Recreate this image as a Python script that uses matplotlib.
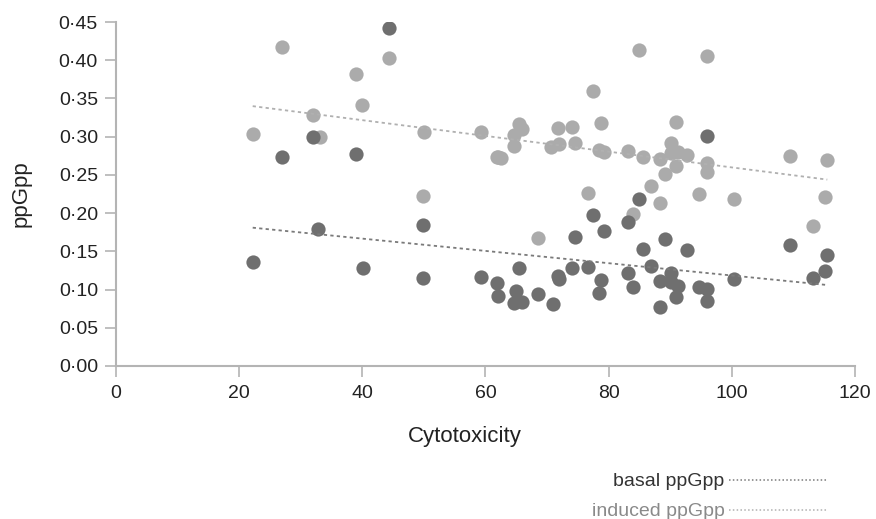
import numpy as np
import matplotlib
matplotlib.use("Agg")
import matplotlib.pyplot as plt
from matplotlib.ticker import FuncFormatter

plt.rcParams['font.family'] = ['Liberation Sans', 'DejaVu Sans']

# induced ppGpp (light points)
induced_x = [22.2, 26.9, 32.0, 33.1, 38.9, 39.9, 44.3, 50.0, 49.8, 59.2,
             61.8, 62.1, 62.6, 64.6, 64.7, 65.4, 65.9, 68.5, 70.7, 71.7,
             72.0, 74.1, 74.5, 76.7, 77.4, 78.5, 78.8, 79.3, 83.2, 83.9,
             85.0, 85.6, 86.9, 88.3, 88.3, 89.2, 90.2, 90.2, 90.9, 91.2,
             90.9, 92.8, 94.7, 95.9, 95.9, 95.9, 100.3, 109.5, 113.2, 115.2,
             115.5]
induced_y = [0.304, 0.417, 0.328, 0.300, 0.382, 0.341, 0.403, 0.306, 0.222, 0.306,
             0.273, 0.273, 0.272, 0.288, 0.302, 0.317, 0.310, 0.167, 0.286, 0.311,
             0.290, 0.313, 0.292, 0.226, 0.360, 0.283, 0.318, 0.280, 0.281, 0.199,
             0.413, 0.273, 0.235, 0.271, 0.213, 0.251, 0.292, 0.279, 0.262, 0.280,
             0.319, 0.276, 0.225, 0.406, 0.266, 0.254, 0.218, 0.275, 0.183, 0.221,
             0.269]

# basal ppGpp (dark points)
basal_x = [22.2, 26.9, 32.0, 32.8, 38.9, 40.1, 44.3, 49.8, 49.8, 59.2,
           61.8, 62.1, 64.9, 64.6, 65.9, 65.4, 68.5, 70.9, 71.7, 71.9,
           74.1, 74.5, 76.7, 77.4, 78.8, 78.5, 79.2, 83.1, 83.2, 83.9,
           85.0, 85.6, 86.9, 88.3, 88.3, 89.2, 90.2, 90.2, 91.2, 90.9,
           92.8, 94.7, 95.9, 95.9, 95.9, 100.3, 109.5, 113.2, 115.2, 115.5]
basal_y = [0.136, 0.273, 0.300, 0.179, 0.277, 0.128, 0.442, 0.184, 0.115, 0.116,
           0.109, 0.092, 0.098, 0.082, 0.084, 0.128, 0.094, 0.081, 0.118, 0.114,
           0.128, 0.169, 0.130, 0.198, 0.113, 0.096, 0.177, 0.188, 0.122, 0.103,
           0.218, 0.153, 0.131, 0.111, 0.077, 0.166, 0.122, 0.110, 0.105, 0.090,
           0.152, 0.103, 0.101, 0.085, 0.301, 0.114, 0.158, 0.115, 0.124, 0.145]

# trend lines as drawn in the figure (slope, intercept)
induced_fit = (-0.00103, 0.3628)
basal_fit = (-0.000804, 0.1988)

y_ticks = [0.0, 0.05, 0.10, 0.15, 0.20, 0.25, 0.30, 0.35, 0.40, 0.45]
x_ticks = [0, 20, 40, 60, 80, 100, 120]

dark = '#6f6f6f'
light = '#ababab'
spine = '#b4b4b4'

fig = plt.figure(figsize=(8.76, 5.19), dpi=100)
ax = fig.add_axes([0.1324, 0.2948, 0.8436, 0.6628])

ax.scatter(induced_x, induced_y, s=105, color=light, linewidths=0, zorder=2)
ax.scatter(basal_x, basal_y, s=105, color=dark, linewidths=0, zorder=3)

for xs, fit, c in [(induced_x, induced_fit, '#b0b0b0'), (basal_x, basal_fit, '#7a7a7a')]:
    xx = np.array([min(xs), max(xs)])
    ax.plot(xx, fit[0] * xx + fit[1], linestyle=(0, (1.8, 1.8)), color=c, lw=1.3, zorder=4)

ax.set_xlim(0, 120)
ax.set_ylim(0, 0.45)
ax.set_xticks(x_ticks)
ax.set_yticks(y_ticks)
ax.yaxis.set_major_formatter(FuncFormatter(lambda v, p: ('%.2f' % v).replace('.', '\u00b7')))

for side in ['top', 'right']:
    ax.spines[side].set_visible(False)
for side in ['left', 'bottom']:
    ax.spines[side].set_color(spine)
    ax.spines[side].set_linewidth(1.5)
ax.tick_params(colors=spine, labelcolor='#222222', labelsize=14, length=8, width=1.2)
ax.tick_params(axis='x', pad=6)
ax.tick_params(axis='y', pad=5)

ax.set_xlabel('Cytotoxicity', fontsize=16, color='#222222')
ax.set_ylabel('ppGpp', fontsize=16, color='#222222')
ax.xaxis.set_label_coords(0.472, -0.175)
ax.yaxis.set_label_coords(-0.114, 0.5)

# legend at the bottom right
fig.text(724 / 876, 1 - 486 / 519, 'basal ppGpp', ha='right', va='baseline', fontsize=14, color='#333333')
fig.text(725 / 876, 1 - 516 / 519, 'induced ppGpp', ha='right', va='baseline', fontsize=14, color='#8a8a8a')
fig.add_artist(plt.Line2D([729 / 876, 828 / 876], [1 - 480 / 519] * 2, transform=fig.transFigure,
                          color='#7a7a7a', linestyle=(0, (1, 1.5)), lw=1.1))
fig.add_artist(plt.Line2D([729 / 876, 828 / 876], [1 - 510 / 519] * 2, transform=fig.transFigure,
                          color='#b0b0b0', linestyle=(0, (1, 1.5)), lw=1.1))

fig.savefig('out.png', dpi=100)
